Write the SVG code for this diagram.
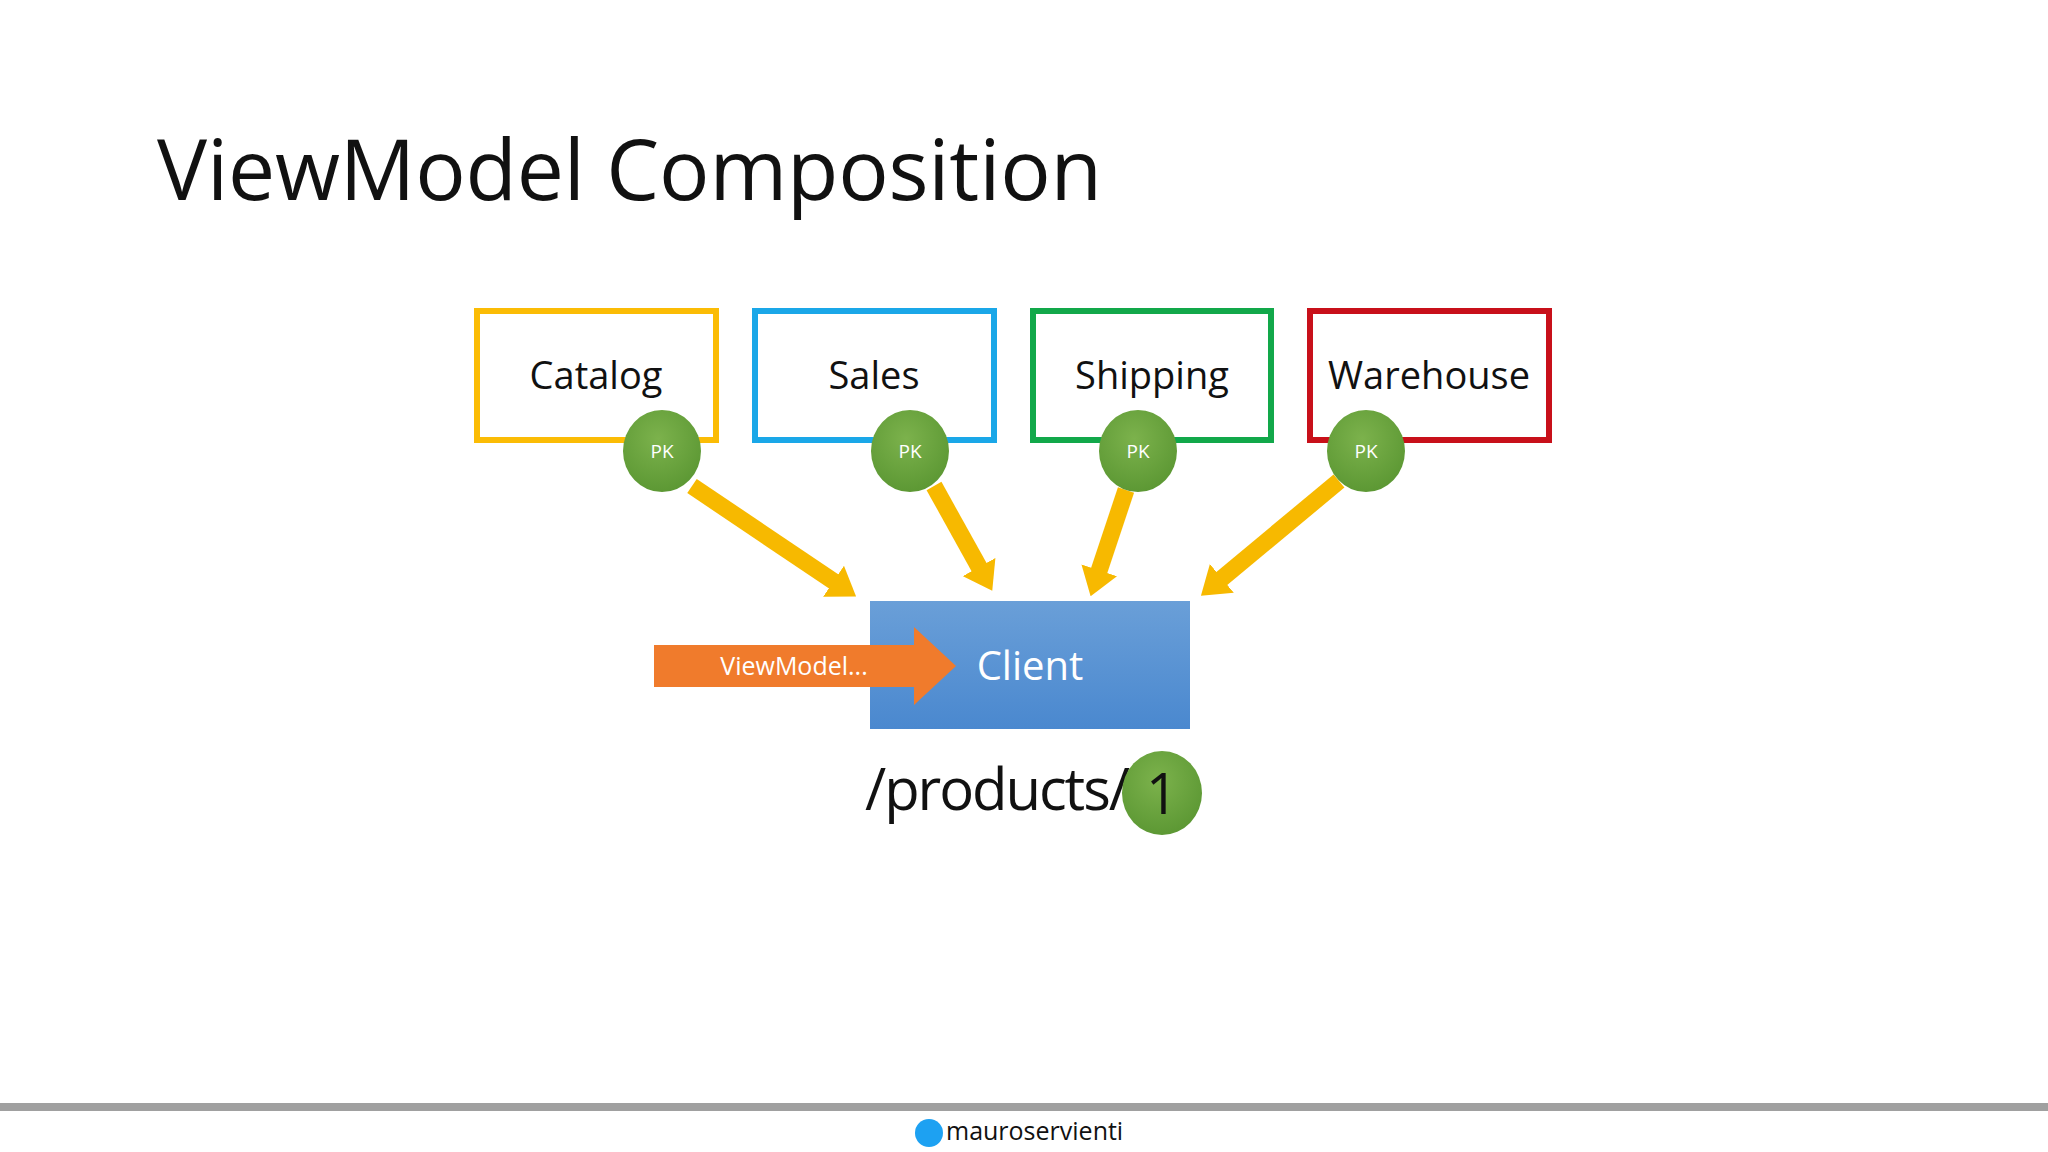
<svg xmlns="http://www.w3.org/2000/svg" width="2048" height="1152" viewBox="0 0 2048 1152">
<defs>
<style>
.t{font-family:"Open Sans","Liberation Sans",sans-serif;}
.box{fill:#fff;stroke-width:6}
.lbl{font-size:38px;fill:#111;text-anchor:middle}
.pk{fill:url(#g)}
.pkt{font-size:19px;fill:#fff;text-anchor:middle}
.ya{stroke:#f7b900;stroke-width:17;fill:none;marker-end:url(#ah)}
</style>
<radialGradient id="g" cx="0.45" cy="0.35" r="0.7"><stop offset="0" stop-color="#7cb24c"/><stop offset="1" stop-color="#5a9632"/></radialGradient>
<linearGradient id="bl" x1="0" y1="0" x2="0" y2="1"><stop offset="0" stop-color="#6a9fd8"/><stop offset="1" stop-color="#4a88cf"/></linearGradient>
<marker id="ah" markerWidth="1.6" markerHeight="2.2" refX="0.6" refY="1.1" orient="auto" markerUnits="strokeWidth"><path d="M0,0 L1.6,1.1 L0,2.2 Z" fill="#f7b900"/></marker>
</defs>
<rect width="2048" height="1152" fill="#fff"/>
<text class="t" x="157" y="200" font-size="84" fill="#111" textLength="945">ViewModel Composition</text>
<g id="connectors">
<line class="ya" x1="692" y1="486" x2="842" y2="587"/>
<line class="ya" x1="934" y1="486" x2="984" y2="576"/>
<line class="ya" x1="1126" y1="490" x2="1096" y2="580"/>
<line class="ya" x1="1339" y1="481" x2="1214" y2="585"/>
</g>
<g id="catalog"><rect class="box" x="477" y="311" width="239" height="129" stroke="#fbbc05"/><text class="t lbl" x="596" y="389">Catalog</text></g>
<g id="sales"><rect class="box" x="755" y="311" width="239" height="129" stroke="#1aa7e8"/><text class="t lbl" x="874" y="389">Sales</text></g>
<g id="shipping"><rect class="box" x="1033" y="311" width="238" height="129" stroke="#12a84a"/><text class="t lbl" x="1152" y="389">Shipping</text></g>
<g id="warehouse"><rect class="box" x="1310" y="311" width="239" height="129" stroke="#c8101a"/><text class="t lbl" x="1429" y="389">Warehouse</text></g>
<g id="pk1"><ellipse class="pk" cx="662" cy="451" rx="39" ry="41"/><text class="t pkt" x="662" y="458">PK</text></g>
<g id="pk2"><ellipse class="pk" cx="910" cy="451" rx="39" ry="41"/><text class="t pkt" x="910" y="458">PK</text></g>
<g id="pk3"><ellipse class="pk" cx="1138" cy="451" rx="39" ry="41"/><text class="t pkt" x="1138" y="458">PK</text></g>
<g id="pk4"><ellipse class="pk" cx="1366" cy="451" rx="39" ry="41"/><text class="t pkt" x="1366" y="458">PK</text></g>
<g id="client"><rect x="870" y="601" width="320" height="128" fill="url(#bl)"/><text class="t" x="1030" y="680" font-size="40" fill="#fff" text-anchor="middle">Client</text></g>
<g id="viewmodel"><path d="M654,645 L914,645 L914,627 L956,666 L914,705 L914,687 L654,687 Z" fill="#f07b2c"/><text class="t" x="794" y="675" font-size="25" fill="#fff" text-anchor="middle">ViewModel...</text></g>
<g id="url"><text class="t" x="865" y="810" font-size="58" fill="#111" textLength="265">/products/</text><ellipse class="pk" cx="1162" cy="793" rx="40" ry="42"/><text class="t" x="1162" y="814" font-size="56" fill="#111" text-anchor="middle">1</text></g>
<rect x="0" y="1103" width="2048" height="8" fill="#a0a0a0"/>
<g id="footer"><circle cx="929" cy="1133" r="14" fill="#1da1f2"/><text class="t" x="946" y="1140" font-size="25" fill="#111">mauroservienti</text></g>
</svg>
